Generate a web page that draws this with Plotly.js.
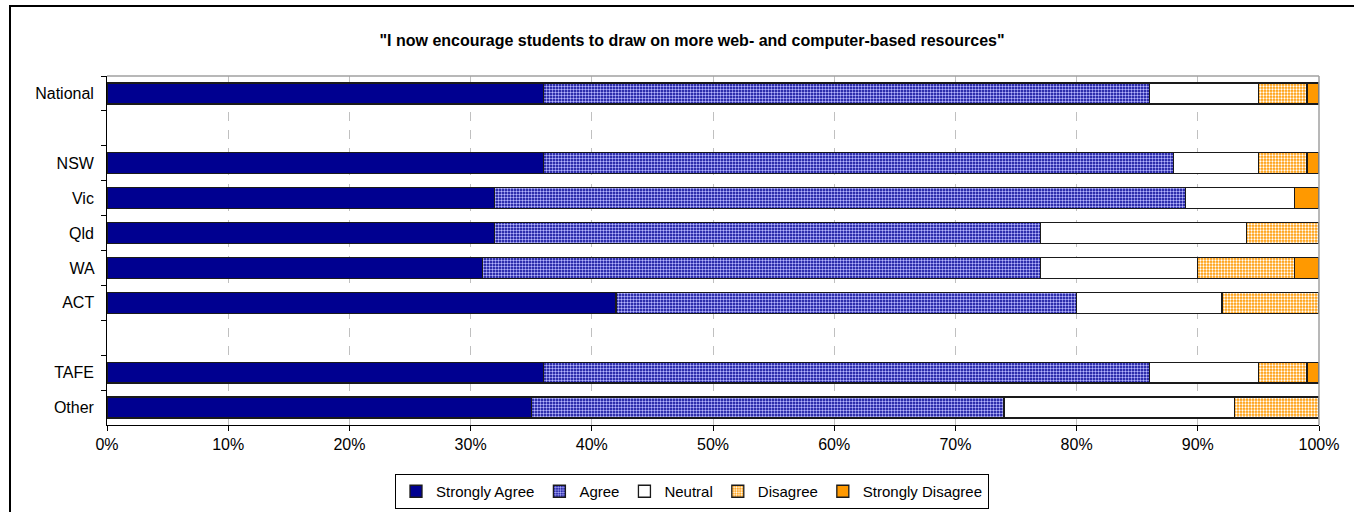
<!DOCTYPE html>
<html>
<head>
<meta charset="utf-8">
<script src="https://cdn.plot.ly/plotly-3.0.1.min.js"></script>
<style>
  html, body { margin: 0; padding: 0; background: #ffffff; overflow: hidden; }
  #chart { width: 1354px; height: 512px; }
  #frame { position: absolute; left: 9px; top: 5px; width: 1400px; height: 600px;
           border: 2px solid #000; pointer-events: none; }
</style>
</head>
<body>
<div id="chart"></div>
<div id="frame"></div>
<script>
const categories = ['National', ' ', 'NSW', 'Vic', 'Qld', 'WA', 'ACT', '  ', 'TAFE', 'Other'];
const stronglyAgree    = [36, null, 36, 32, 32, 31, 42, null, 36, 35];
const agree            = [50, null, 52, 57, 45, 46, 38, null, 50, 39];
const neutral          = [9,  null, 7,  9,  17, 13, 12, null, 9,  19];
const disagree         = [4,  null, 4,  0,  6,  8,  8,  null, 4,  7];
const stronglyDisagree = [1,  null, 1,  2,  0,  2,  0,  null, 1,  0];
const tickValues = [0, 10, 20, 30, 40, 50, 60, 70, 80, 90, 100];
const tickLabels = ['0%', '10%', '20%', '30%', '40%', '50%', '60%', '70%', '80%', '90%', '100%'];

const FONT = 'Liberation Sans, Arial, sans-serif';
const outline = { color: '#1a1a1a', width: 1.3 };

function series(name, vals, marker) {
  return {
    type: 'bar', orientation: 'h', name: name,
    x: vals, y: categories, width: 0.6,
    marker: Object.assign({ line: outline }, marker),
    hoverinfo: 'x+y+name'
  };
}

const data = [
  series('Strongly Agree', stronglyAgree, { color: '#000090' }),
  series('Agree', agree, { color: '#000090', pattern: { shape: '.', bgcolor: '#000090', fgcolor: '#b8b8ff', size: 3, solidity: 0.5 } }),
  series('Neutral', neutral, { color: '#ffffff' }),
  series('Disagree', disagree, { color: '#ff9900', pattern: { shape: '.', bgcolor: '#ff9900', fgcolor: '#ffffff', size: 3, solidity: 0.45 } }),
  series('Strongly Disagree', stronglyDisagree, { color: '#ff9900' })
];

const layout = {
  width: 1354, height: 512,
  paper_bgcolor: '#ffffff', plot_bgcolor: '#ffffff',
  margin: { l: 107, r: 35, t: 76, b: 87 },
  barmode: 'stack',
  showlegend: true,
  font: { family: FONT, size: 15, color: '#000' },
  title: {
    text: '<b>"I now encourage students to draw on more web- and computer-based resources"</b>',
    font: { family: FONT, size: 16, color: '#000' },
    x: 692 / 1354, xref: 'container', xanchor: 'center',
    y: 1 - 40 / 512, yref: 'container', yanchor: 'middle'
  },
  xaxis: {
    range: [0, 100], tickvals: tickValues, ticktext: tickLabels,
    showgrid: true, gridcolor: '#c0c0c0', griddash: 'dash', gridwidth: 1,
    zeroline: false,
    showline: true, linecolor: '#000', linewidth: 1,
    ticks: 'outside', ticklen: 5, tickcolor: '#000',
    tickfont: { family: FONT, size: 16, color: '#000' },
    fixedrange: true
  },
  yaxis: {
    type: 'category', autorange: 'reversed',
    showgrid: false, zeroline: false,
    showline: true, linecolor: '#000', linewidth: 1,
    ticks: 'outside', ticklen: 5, tickcolor: '#000', tickson: 'boundaries',
    tickfont: { family: FONT, size: 16, color: '#000' },
    ticksuffix: '  ',
    fixedrange: true
  },
  legend: {
    orientation: 'h',
    xref: 'container', x: 692 / 1354, xanchor: 'center',
    yref: 'container', y: 1 - 474 / 512, yanchor: 'top',
    bordercolor: '#000', borderwidth: 1, bgcolor: '#fff',
    font: { family: FONT, size: 15, color: '#000' },
    traceorder: 'normal', itemwidth: 30, tracegroupgap: 0
  },
  shapes: [
    { type: 'line', xref: 'paper', yref: 'paper', x0: 0, x1: 1, y0: 1, y1: 1, line: { color: '#a0a0a0', width: 1.5 } },
    { type: 'line', xref: 'paper', yref: 'paper', x0: 1, x1: 1, y0: 0, y1: 1, line: { color: '#a0a0a0', width: 1.5 } }
  ]
};

Plotly.newPlot('chart', data, layout, { displayModeBar: false, staticPlot: true });
</script>
</body>
</html>
